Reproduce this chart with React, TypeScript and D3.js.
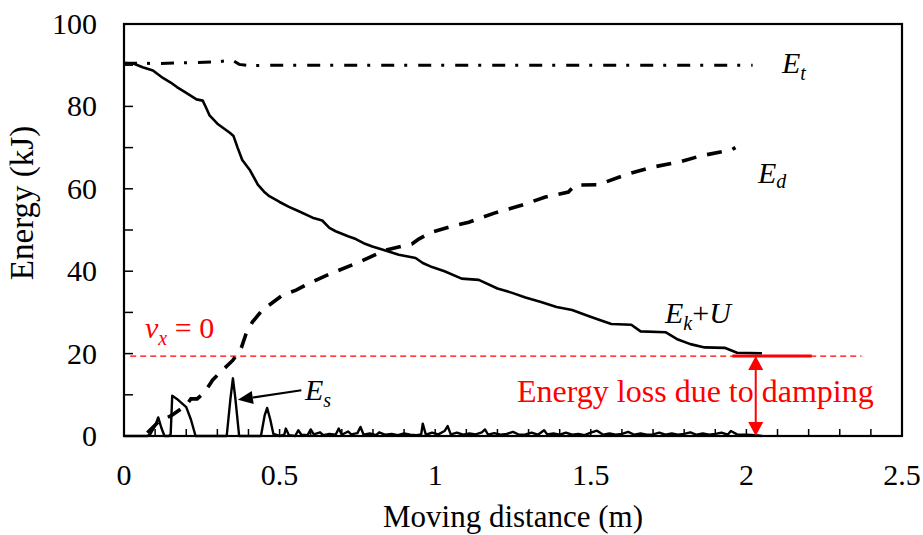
import React from "react";
import * as d3 from "d3";

// ---------- data ----------
const etX = [0, 0.05, 0.1, 0.2, 0.3, 0.33, 0.345, 0.37, 0.4, 0.5, 0.8, 1.2, 1.6, 2.02];
const etY = [90.5, 90.5, 90.4, 90.6, 90.8, 91.1, 91.4, 90.2, 89.9, 90.0, 90.0, 90.0, 90.0, 90.0];

const ekX = [0, 0.03, 0.06, 0.093, 0.125, 0.15, 0.17, 0.2, 0.233, 0.253, 0.265, 0.275, 0.3, 0.34, 0.352, 0.365, 0.38, 0.405, 0.43, 0.45, 0.467, 0.5, 0.53, 0.56, 0.606, 0.637, 0.66, 0.68, 0.72, 0.745, 0.77, 0.798, 0.84, 0.883, 0.937, 0.96, 0.99, 1.03, 1.085, 1.14, 1.2, 1.245, 1.29, 1.34, 1.39, 1.44, 1.49, 1.524, 1.566, 1.63, 1.66, 1.74, 1.78, 1.82, 1.866, 1.93, 1.97, 2.05];
const ekY = [90.5, 90.4, 89.5, 88.7, 86.9, 85.8, 84.7, 83.3, 81.7, 81.4, 79.5, 77.8, 75.8, 73.6, 72.8, 70, 67, 64.5, 61, 59.3, 58.2, 56.8, 55.6, 54.6, 53, 52.3, 50.5, 49.7, 48.5, 47.8, 46.8, 46, 45, 44, 43.2, 42, 41, 40, 38.2, 37.9, 35.8, 34.8, 33.6, 32.5, 31.3, 30.6, 29.2, 28.3, 27.2, 27.0, 25.4, 25.2, 23.4, 22.3, 21.5, 21.4, 20.2, 20.1];

const edX = [0.075, 0.11, 0.153, 0.2, 0.215, 0.235, 0.26, 0.285, 0.317, 0.35, 0.377, 0.393, 0.413, 0.445, 0.51, 0.553, 0.595, 0.67, 0.755, 0.84, 0.925, 0.947, 0.99, 1.05, 1.108, 1.19, 1.277, 1.354, 1.428, 1.45, 1.524, 1.62, 1.694, 1.79, 1.853, 1.95, 1.965];
const edY = [0.8, 3.4, 5, 7.5, 9.0, 9.0, 10.7, 13.6, 16, 18.4, 21.4, 25, 27.7, 30.6, 34.2, 35.4, 37.1, 39.6, 42.2, 45.1, 46.6, 47.8, 49.5, 50.8, 51.9, 54.1, 56, 58, 59.2, 60.9, 61, 63.6, 65.2, 66.6, 68, 69.4, 70];

const esX = [0, 0.075, 0.085, 0.1, 0.11, 0.12, 0.13, 0.145, 0.15, 0.155, 0.17, 0.2, 0.215, 0.23, 0.33, 0.342, 0.35, 0.358, 0.37, 0.44, 0.452, 0.46, 0.47, 0.48, 0.5, 0.515, 0.52, 0.53, 0.55, 0.56, 0.57, 0.59, 0.6, 0.61, 0.63, 0.64, 0.66, 0.68, 0.69, 0.7, 0.72, 0.73, 0.75, 0.76, 0.77, 0.79, 0.81, 0.82, 0.84, 0.86, 0.88, 0.9, 0.92, 0.94, 0.955, 0.96, 0.97, 0.99, 1.01, 1.03, 1.04, 1.05, 1.07, 1.09, 1.11, 1.13, 1.15, 1.16, 1.17, 1.19, 1.21, 1.23, 1.25, 1.27, 1.29, 1.31, 1.33, 1.35, 1.36, 1.38, 1.4, 1.42, 1.44, 1.46, 1.48, 1.5, 1.52, 1.54, 1.56, 1.58, 1.6, 1.62, 1.64, 1.66, 1.68, 1.7, 1.72, 1.74, 1.76, 1.78, 1.8, 1.82, 1.84, 1.86, 1.88, 1.9, 1.92, 1.94, 1.95, 1.97, 2.0, 2.03, 2.05];
const esY = [0, 0, 0.5, 2.5, 4.5, 2, 0, 0, 0.5, 9.8, 9, 7, 4, 0, 0, 9, 14, 9, 0, 0, 5, 6.8, 4, 0.5, 0, 0.3, 1.8, 0.2, 0, 1.4, 0.3, 0.2, 1.6, 0.4, 0.9, 0.2, 0.5, 0.3, 1.8, 0.3, 1.1, 0.4, 0.7, 2.2, 0.3, 0.6, 0.2, 0.9, 0.3, 0.5, 0.2, 0.6, 0.3, 0.2, 0.4, 3.0, 0.3, 0.8, 0.4, 1.2, 2.4, 0.4, 0.8, 0.3, 0.6, 0.4, 0.9, 1.6, 0.3, 0.7, 0.3, 0.5, 1.0, 0.3, 0.4, 0.8, 0.3, 1.4, 0.4, 0.6, 0.3, 0.8, 0.3, 0.5, 0.2, 0.8, 1.3, 0.3, 0.6, 0.3, 0.5, 1.0, 0.3, 0.6, 0.3, 0.4, 0.8, 0.3, 0.6, 0.3, 0.5, 0.9, 0.3, 0.6, 0.3, 0.5, 0.8, 0.3, 1.2, 0.4, 0.3, 0.2, 0];

const xTickValues = [0, 0.5, 1, 1.5, 2, 2.5];
const xTickLabels = ["0", "0.5", "1", "1.5", "2", "2.5"];
const yTickValues = [0, 20, 40, 60, 80, 100];
const yTickLabels = ["0", "20", "40", "60", "80", "100"];

const vxZeroLevel = 19.4;
const finalEnergy = 19.4;

const FONT = "'Liberation Serif', 'Times New Roman', serif";

export default function App() {
  const W = 923, H = 535;
  const x = d3.scaleLinear().domain([0, 2.5]).range([124, 902]);
  const y = d3.scaleLinear().domain([0, 100]).range([436, 24]);

  const mk = (xs: number[], ys: number[]) =>
    d3.line<number>().x((_, i) => x(xs[i])).y((_, i) => y(ys[i]))(xs.map((_, i) => i)) || "";

  const minorX = d3.range(0, 26).map((i) => i / 10);
  const minorY = d3.range(0, 11).map((i) => i * 10);

  const ax = x(2.03);
  const aTop = y(finalEnergy);
  const aBot = y(0);
  const head = 14, hw = 7.5;

  const esTipX = x(0.366), esTipY = y(8.8);
  const esTailX = x(0.57), esTailY = y(11.1);
  const ang = Math.atan2(esTipY - esTailY, esTipX - esTailX);
  const hl = 15, hwid = 6.5;
  const bx = esTipX - hl * Math.cos(ang), by = esTipY - hl * Math.sin(ang);
  const px = -Math.sin(ang), py = Math.cos(ang);

  return (
    <div style={{ position: "absolute", left: 0, top: 0, width: W, height: H, background: "#fff" }}>
      <svg width={W} height={H} style={{ display: "block" }} fontFamily={FONT}>
        <rect x={0} y={0} width={W} height={H} fill="#fff" />
        {minorX.map((v) => (
          <line key={"tx" + v} x1={x(v)} x2={x(v)} y1={436} y2={429} stroke="#000" strokeWidth={1.5} />
        ))}
        {minorY.map((v) => (
          <line key={"ty" + v} x1={124} x2={133} y1={y(v)} y2={y(v)} stroke="#000" strokeWidth={1.5} />
        ))}
        <line x1={x(0.02)} x2={x(2.37)} y1={y(vxZeroLevel)} y2={y(vxZeroLevel)} stroke="#ff0000" strokeWidth={1.3} strokeDasharray="6,4" />
        <line x1={x(1.955)} x2={x(2.21)} y1={y(finalEnergy)} y2={y(finalEnergy)} stroke="#ff0000" strokeWidth={3} />
        <path d={mk(esX, esY)} fill="none" stroke="#000" strokeWidth={2.4} strokeLinejoin="round" />
        <path d={mk(edX, edY)} fill="none" stroke="#000" strokeWidth={3.6} strokeDasharray="15,11" />
        <path d={mk(ekX, ekY)} fill="none" stroke="#000" strokeWidth={2.6} strokeLinejoin="round" />
        <path d={mk(etX, etY)} fill="none" stroke="#000" strokeWidth={3} strokeDasharray="13,10,3,11" />
        <line x1={ax} x2={ax} y1={aTop + head} y2={aBot - head} stroke="#ff0000" strokeWidth={2} />
        <polygon points={`${ax},${aTop} ${ax - hw},${aTop + head} ${ax + hw},${aTop + head}`} fill="#ff0000" />
        <polygon points={`${ax},${aBot} ${ax - hw},${aBot - head} ${ax + hw},${aBot - head}`} fill="#ff0000" />
        <line x1={esTailX} y1={esTailY} x2={bx} y2={by} stroke="#000" strokeWidth={2.2} />
        <polygon points={`${esTipX},${esTipY} ${bx + px * hwid},${by + py * hwid} ${bx - px * hwid},${by - py * hwid}`} fill="#000" />
        <rect x={124} y={24} width={902 - 124} height={436 - 24} fill="none" stroke="#000" strokeWidth={2.2} />
        {xTickValues.map((v, i) => (
          <text key={"xl" + v} x={x(v)} y={485} textAnchor="middle" fontSize={30}>{xTickLabels[i]}</text>
        ))}
        {yTickValues.map((v, i) => (
          <text key={"yl" + v} x={97} y={y(v)} dy="0.33em" textAnchor="end" fontSize={30}>{yTickLabels[i]}</text>
        ))}
        <text x={513} y={527} textAnchor="middle" fontSize={31}>Moving distance (m)</text>
        <text transform="translate(33,203) rotate(-90)" textAnchor="middle" fontSize={33}>Energy (kJ)</text>
        <text x={782} y={73} fontSize={30}>
          <tspan fontStyle="italic">E</tspan>
          <tspan fontStyle="italic" fontSize={20} dy={7}>t</tspan>
        </text>
        <text x={758} y={183} fontSize={30}>
          <tspan fontStyle="italic">E</tspan>
          <tspan fontStyle="italic" fontSize={20} dy={5}>d</tspan>
        </text>
        <text x={665} y={323} fontSize={30}>
          <tspan fontStyle="italic">E</tspan>
          <tspan fontStyle="italic" fontSize={20} dy={7}>k</tspan>
          <tspan dy={-7}>+</tspan>
          <tspan fontStyle="italic">U</tspan>
        </text>
        <text x={305} y={400} fontSize={30}>
          <tspan fontStyle="italic">E</tspan>
          <tspan fontStyle="italic" fontSize={20} dy={7}>s</tspan>
        </text>
        <text x={145} y={338} fontSize={30} fill="#ff0000">
          <tspan fontStyle="italic">v</tspan>
          <tspan fontStyle="italic" fontSize={20} dy={7}>x</tspan>
          <tspan dy={-7}> = 0</tspan>
        </text>
        <text x={517} y={402} fontSize={32} fill="#ff0000">Energy loss due to damping</text>
      </svg>
    </div>
  );
}
